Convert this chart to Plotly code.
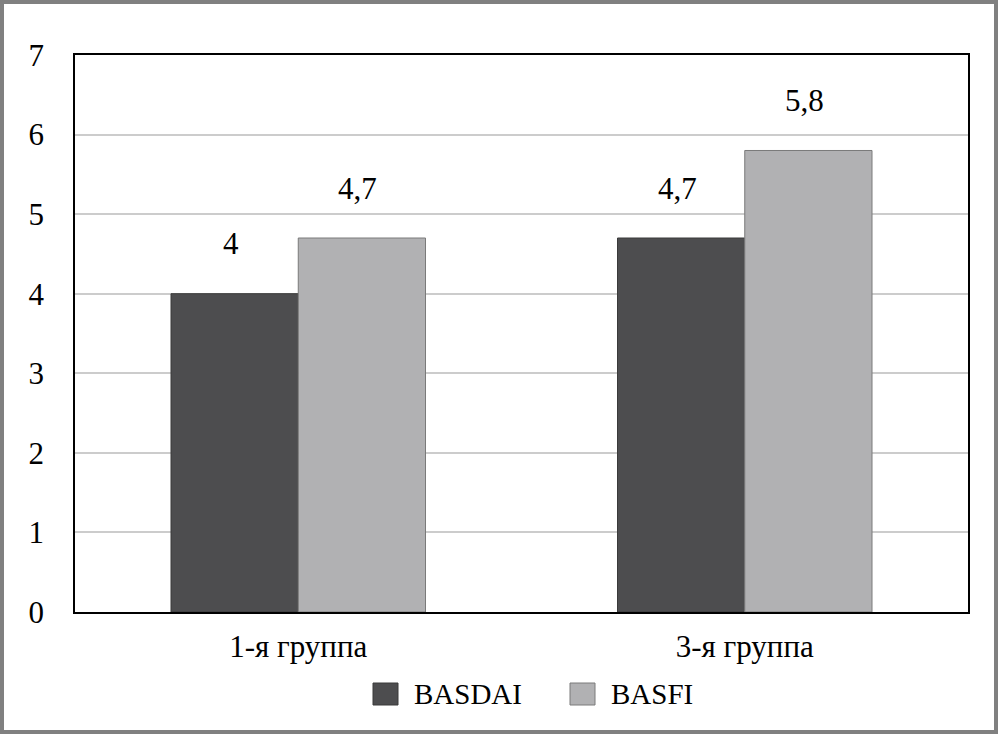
import plotly.graph_objects as go

categories = ["1-я группа", "3-я группа"]
basdai = [4.0, 4.7]
basfi = [4.7, 5.8]
basdai_labels = ["4", "4,7"]
basfi_labels = ["4,7", "5,8"]
series_names = ["BASDAI", "BASFI"]
y_ticks = [0, 1, 2, 3, 4, 5, 6, 7]

W, H = 998, 734
ML, MR, MT, MB = 75, 30, 55, 122
PW, PH = W - ML - MR, H - MT - MB
BARGAP = 0.43
FONT = "'Liberation Serif', 'Times New Roman', Times, 'DejaVu Serif', serif"
DARK, LIGHT = "#4d4d4f", "#b1b1b3"

fig = go.Figure()
fig.add_trace(go.Bar(x=categories, y=basdai, name=series_names[0],
                     marker=dict(color=DARK, line=dict(color="#3a3a3a", width=1)),
                     showlegend=False))
fig.add_trace(go.Bar(x=categories, y=basfi, name=series_names[1],
                     marker=dict(color=LIGHT, line=dict(color="#7a7a7a", width=1)),
                     showlegend=False))

bar_w = PW / len(categories) * (1 - BARGAP) / 2
annotations = []
for i, c in enumerate(categories):
    for vals, labs, sign in ((basdai, basdai_labels, -1), (basfi, basfi_labels, 1)):
        annotations.append(dict(x=c, y=vals[i], xref="x", yref="y", text=labs[i],
                                showarrow=False, xshift=sign * bar_w / 2 - 4, yshift=50,
                                yanchor="middle", font=dict(family=FONT, size=31, color="black")))

# custom legend
def px_to_paper_x(px):
    return (px - ML) / PW

def px_to_paper_y(py):
    return (H - MB - py) / PH

shapes = []
legend_items = [(series_names[0], DARK, "#3a3a3a", 373, 412), (series_names[1], LIGHT, "#7a7a7a", 570, 609)]
for name, col, lc, sx, tx in legend_items:
    shapes.append(dict(type="rect", xref="paper", yref="paper",
                       x0=px_to_paper_x(sx), x1=px_to_paper_x(sx + 25),
                       y0=px_to_paper_y(705), y1=px_to_paper_y(683),
                       fillcolor=col, line=dict(color=lc, width=1)))
    annotations.append(dict(x=px_to_paper_x(tx), y=px_to_paper_y(694), xref="paper", yref="paper",
                            text=name, showarrow=False, xanchor="left", yanchor="middle",
                            font=dict(family=FONT, size=29, color="black")))

# outer frame
shapes.append(dict(type="rect", xref="paper", yref="paper",
                   x0=px_to_paper_x(2), x1=px_to_paper_x(996),
                   y0=px_to_paper_y(732), y1=px_to_paper_y(2),
                   line=dict(color="#808080", width=4), fillcolor="rgba(0,0,0,0)"))

fig.update_layout(
    width=W, height=H,
    margin=dict(l=ML, r=MR, t=MT, b=MB),
    paper_bgcolor="white", plot_bgcolor="white",
    barmode="group", bargap=BARGAP, bargroupgap=0,
    font=dict(family=FONT, size=31, color="black"),
    annotations=annotations, shapes=shapes,
    showlegend=False,
)
fig.update_yaxes(range=[0, 7], tickvals=y_ticks, ticktext=[str(t) for t in y_ticks],
                 showgrid=True, gridcolor="#cccccc", gridwidth=1.5,
                 showline=True, linecolor="black", linewidth=1.5, mirror=True,
                 ticks="", ticklabelstandoff=23, zeroline=False,
                 tickfont=dict(family=FONT, size=31, color="black"))
fig.update_xaxes(showline=True, linecolor="black", linewidth=1.5, mirror=True,
                 ticks="", ticklabelstandoff=6,
                 tickfont=dict(family=FONT, size=31, color="black"))

fig.write_html("out.html", config={"displayModeBar": False},
               post_script="document.body.style.margin='0';document.body.style.overflow='hidden';")
